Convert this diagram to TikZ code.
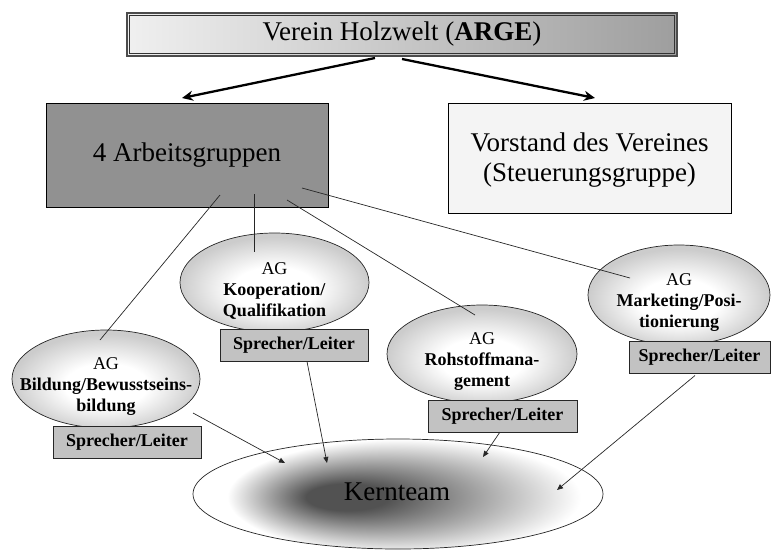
\documentclass[tikz,border=0pt]{standalone}
\usepackage{fontspec}
\setmainfont{Liberation Serif}
\usetikzlibrary{calc,arrows.meta,shapes.geometric}
\definecolor{agfill}{gray}{0.57}
\definecolor{spfill}{gray}{0.76}
\definecolor{vorfill}{gray}{0.955}
\definecolor{ellout}{gray}{0.80}
\definecolor{kdark}{gray}{0.32}
\definecolor{topgray}{gray}{0.62}
\pgfdeclareradialshading{agshade}{\pgfpoint{0bp}{-4bp}}{color(0bp)=(white); color(11bp)=(white); color(25bp)=(ellout); color(50bp)=(ellout)}
\pgfdeclareradialshading{kernshade}{\pgfpoint{-21bp}{0bp}}{color(0bp)=(kdark); color(1.2bp)=(kdark); color(5.2bp)=(white); color(50bp)=(white)}
\begin{document}
\begin{tikzpicture}[x=1pt,y=-1pt,
  every node/.style={inner sep=0pt, outer sep=0pt},
  topbox/.style={rectangle, left color=white!94!black, middle color=white, right color=topgray,
    font=\fontsize{27}{31}\selectfont},
  bigbox/.style={rectangle, draw=black, line width=0.8pt, font=\fontsize{27}{30}\selectfont, align=center},
  agell/.style={ellipse, draw=black!85, line width=0.7pt, shading=agshade},
  agtext/.style={align=center, font=\fontsize{18}{21}\selectfont},
  spbox/.style={rectangle, draw=black!85, line width=0.8pt, fill=spfill,
    font=\fontsize{18}{20}\selectfont\bfseries, minimum height=32},
  thickarrow/.style={line width=2.3pt, -{Stealth[length=11pt,width=10pt]}},
  thinline/.style={line width=0.7pt, draw=black!85},
  kernarrow/.style={line width=0.7pt, draw=black!85, -{Triangle[length=6pt,width=5pt]}}
]
\useasboundingbox (0,0) rectangle (771,550);

% top and main boxes
\node[topbox, minimum width=550, minimum height=43] (top) at (402,34.5) {Verein Holzwelt (\textbf{ARGE})};
\draw[line width=1.5pt, black!70] (top.north west) rectangle (top.south east);
\draw[line width=0.6pt, black!80] ($(top.north west)+(2.5,2.5)$) rectangle ($(top.south east)+(-2.5,-2.5)$);
\node[bigbox, fill=agfill, minimum width=282, minimum height=104] (ag) at (187,155) {4 Arbeitsgruppen};
\node[bigbox, fill=vorfill, minimum width=283, minimum height=110] (vor) at (589.5,158) {};
\node[font=\fontsize{27}{30}\selectfont, align=center] (vort) at (589.5,160) {Vorstand des Vereines\\(Steuerungsgruppe)};

\coordinate (ta) at ($(top.south)+(-27,2)$);
\coordinate (tb) at ($(top.south)+(0,3)$);
\draw[thickarrow] (ta) -- ($(ag.north)+(-5,-5)$);
\draw[thickarrow] (tb) -- ($(vor.north)+(5.5,-5)$);

% Kernteam
\node[ellipse, fill=white, minimum width=410, minimum height=110] (kern) at (398,494) {};
\begin{scope}
  \clip (kern.center) ellipse (205 and 55);
  \shade[shading=kernshade] (194,219) rectangle (1894,775);
\end{scope}
\draw[line width=0.7pt, black!85] (kern.center) ellipse (205 and 55);
\node[font=\fontsize{27}{30}\selectfont] (kernt) at (397,492) {Kernteam};

% AG ellipses
\node[agell, minimum width=188, minimum height=98] (bild) at (106,379) {};
\node[agell, minimum width=189, minimum height=99] (koop) at (274.5,282.5) {};
\node[agell, minimum width=190, minimum height=98] (roh) at (482,354) {};
\node[agell, minimum width=182, minimum height=100] (mark) at (679,295) {};

\node[agtext] (bildt) at ($(bild.center)+(0,8)$) {AG\\\textbf{Bildung/Bewusstseins-}\\\textbf{bildung}};
\node[agtext] (koopt) at ($(koop.center)+(0,8)$) {AG\\\textbf{Kooperation/}\\\textbf{Qualifikation}};
\node[agtext] (roht) at ($(roh.center)+(0,8)$) {AG\\\textbf{Rohstoffmana-}\\\textbf{gement}};
\node[agtext] (markt) at ($(mark.center)+(0,8)$) {AG\\\textbf{Marketing/Posi-}\\\textbf{tionierung}};

% Sprecher boxes
\node[spbox, minimum width=148] (spb) at (127,442) {Sprecher/Leiter};
\node[spbox, minimum width=148] (spk) at (294,345.5) {Sprecher/Leiter};
\node[spbox, minimum width=149] (spr) at (502.5,416) {Sprecher/Leiter};
\node[spbox, minimum width=141] (spm) at (699.5,357.5) {Sprecher/Leiter};

% lines from Arbeitsgruppen
\draw[thinline] ($(ag.center)+(33,40)$) -- ($(bild.center)+(-6,-39)$);
\draw[thinline] ($(ag.center)+(67,39)$) -- ($(koop.center)+(-20.5,-30.5)$);
\draw[thinline] ($(ag.center)+(100,45)$) -- ($(roh.center)+(-7,-39)$);
\draw[thinline] ($(ag.center)+(115,33)$) -- ($(mark.center)+(-49,-17)$);

% arrows to Kernteam
\draw[kernarrow] ($(bild.center)+(87,34)$) -- ($(kern.center)+(-113,-31)$);
\draw[kernarrow] ($(spk.south)+(13,0)$) -- ($(kern.center)+(-71,-31)$);
\draw[kernarrow] ($(spr.south)+(-2.5,0)$) -- ($(kern.center)+(85,-37)$);
\draw[kernarrow] ($(spm.south)+(-4.5,2)$) -- ($(kern.center)+(159,-4)$);
\end{tikzpicture}
\end{document}
